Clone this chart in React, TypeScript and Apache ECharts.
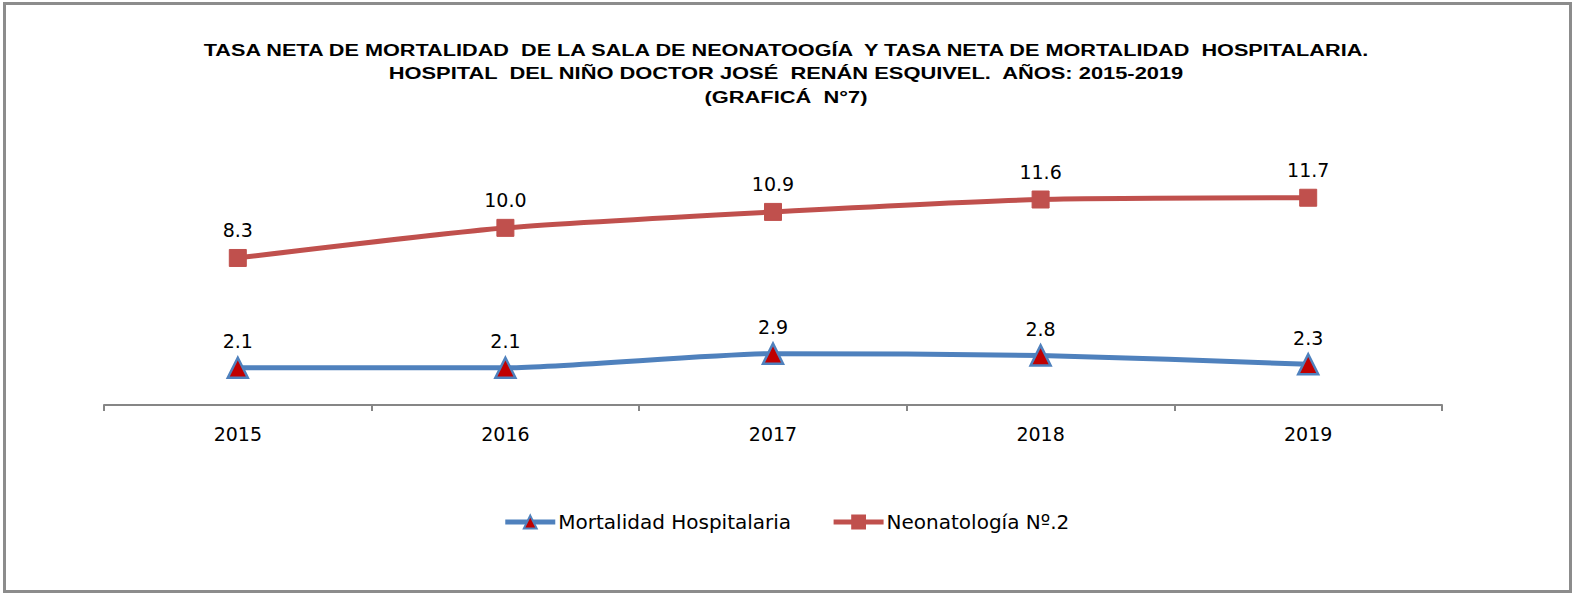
import React, { useEffect, useRef } from "react";
import * as echarts from "echarts";

const years = ["2015", "2016", "2017", "2018", "2019"];
const mortalidadHospitalaria = [2.1, 2.1, 2.9, 2.8, 2.3];
const neonatologia = [8.3, 10.0, 10.9, 11.6, 11.7];
const seriesNames = ["Mortalidad Hospitalaria", "Neonatología Nº.2"];
const titleLines = [
  "TASA NETA DE MORTALIDAD  DE LA SALA DE NEONATOOGÍA  Y TASA NETA DE MORTALIDAD  HOSPITALARIA.",
  "HOSPITAL  DEL NIÑO DOCTOR JOSÉ  RENÁN ESQUIVEL.  AÑOS: 2015-2019",
  "(GRAFICÁ  N°7)",
];
const titleWidths = [1172, 797, 163];
const titleYs = [50, 73, 97];

const TITLE_FONT = "bold 17px 'Liberation Sans'";

function measure(text: string, font: string) {
  const c = document.createElement("canvas").getContext("2d");
  if (!c) return 0;
  c.font = font;
  return c.measureText(text).width;
}

export default function App() {
  const ref = useRef<HTMLDivElement>(null);
  useEffect(() => {
    document.body.style.margin = "0";
    if (!ref.current) return;
    const chart = echarts.init(ref.current, null, { renderer: "svg" });
    const labelFont = { fontFamily: "DejaVu Sans", fontSize: 19, color: "#000" };
    const titleGraphics = titleLines.map((t, i) => {
      const w = measure(t, TITLE_FONT) || titleWidths[i];
      return {
        type: "text",
        x: 786,
        y: titleYs[i],
        scaleX: titleWidths[i] / w,
        silent: true,
        style: {
          text: t,
          font: TITLE_FONT,
          fill: "#000",
          align: "center",
          verticalAlign: "middle",
        },
      };
    });
    chart.setOption({
      animation: false,
      backgroundColor: "#fff",
      graphic: [
        {
          type: "rect",
          shape: { x: 4.5, y: 3.5, width: 1566, height: 588 },
          style: { fill: "none", stroke: "#8c8c8c", lineWidth: 3 },
          silent: true,
        },
        ...titleGraphics,
      ],
      legend: {
        top: 507,
        left: "center",
        itemWidth: 50,
        itemHeight: 16,
        itemGap: 40,
        lineStyle: { width: 5 },
        textStyle: { fontFamily: "DejaVu Sans", fontSize: 20, color: "#000", padding: [0, 0, 0, -2] },
        data: seriesNames,
      },
      grid: { left: 104, right: 130, top: 157, bottom: 188 },
      xAxis: {
        type: "category",
        data: years,
        boundaryGap: true,
        axisLine: { lineStyle: { color: "#868686", width: 2 } },
        axisTick: { show: true, length: 6, lineStyle: { color: "#868686", width: 2 } },
        axisLabel: { ...labelFont, margin: 19 },
      },
      yAxis: {
        type: "value",
        min: 0,
        max: 14,
        show: false,
        splitLine: { show: false },
      },
      series: [
        {
          name: seriesNames[0],
          type: "line",
          data: mortalidadHospitalaria,
          smooth: 0.2,
          symbol: "triangle",
          symbolSize: 20,
          lineStyle: { color: "#4F81BD", width: 5 },
          itemStyle: { color: "#C00000", borderColor: "#4F81BD", borderWidth: 2.5 },
          label: {
            show: true,
            position: "top",
            distance: 6,
            formatter: (p: any) => Number(p.value).toFixed(1),
            ...labelFont,
          },
        },
        {
          name: seriesNames[1],
          type: "line",
          data: neonatologia,
          smooth: 0.2,
          symbol: "rect",
          symbolSize: 17,
          lineStyle: { color: "#C0504D", width: 5 },
          itemStyle: { color: "#C0504D", borderColor: "#C0504D", borderWidth: 1 },
          label: {
            show: true,
            position: "top",
            distance: 9,
            formatter: (p: any) => Number(p.value).toFixed(1),
            ...labelFont,
          },
        },
      ],
    });
    return () => chart.dispose();
  }, []);
  return <div ref={ref} style={{ width: 1572, height: 593 }} />;
}
